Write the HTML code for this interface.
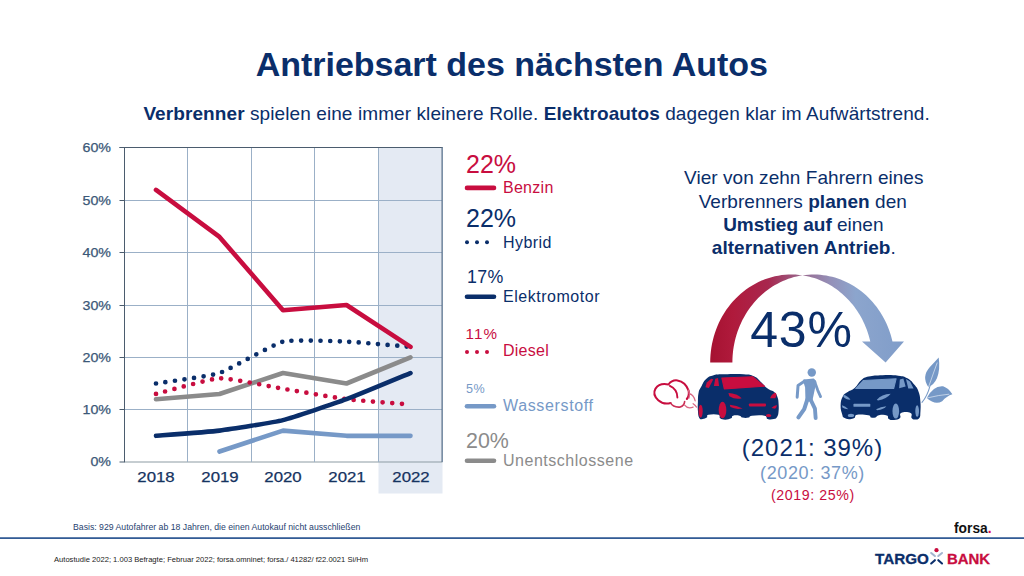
<!DOCTYPE html>
<html lang="de"><head><meta charset="utf-8"><title>Antriebsart des nächsten Autos</title>
<style>
html,body{margin:0;padding:0;background:#fff;}
body{width:1024px;height:576px;position:relative;overflow:hidden;font-family:"Liberation Sans",sans-serif;}
svg{position:absolute;left:0;top:0;}
.t{position:absolute;white-space:nowrap;line-height:1;}
.c{transform:translateX(-50%);}
.r{transform:translateX(-100%);}
b{font-weight:bold;}
</style></head><body>
<svg width="1024" height="576" viewBox="0 0 1024 576">
<rect x="378.5" y="147" width="64" height="346.5" fill="#e4eaf3"/>
<line x1="124.5" x2="442.5" y1="462" y2="462" stroke="#8c9ba3" stroke-width="1"/>
<line x1="119.5" x2="125" y1="462" y2="462" stroke="#4b5c6e" stroke-width="1"/>
<line x1="124.5" x2="442.5" y1="409.50" y2="409.50" stroke="#9bb0c7" stroke-width="1"/>
<line x1="119.5" x2="125" y1="409.50" y2="409.50" stroke="#4b5c6e" stroke-width="1"/>
<line x1="124.5" x2="442.5" y1="357.50" y2="357.50" stroke="#9bb0c7" stroke-width="1"/>
<line x1="119.5" x2="125" y1="357.50" y2="357.50" stroke="#4b5c6e" stroke-width="1"/>
<line x1="124.5" x2="442.5" y1="305.50" y2="305.50" stroke="#9bb0c7" stroke-width="1"/>
<line x1="119.5" x2="125" y1="305.50" y2="305.50" stroke="#4b5c6e" stroke-width="1"/>
<line x1="124.5" x2="442.5" y1="252.50" y2="252.50" stroke="#9bb0c7" stroke-width="1"/>
<line x1="119.5" x2="125" y1="252.50" y2="252.50" stroke="#4b5c6e" stroke-width="1"/>
<line x1="124.5" x2="442.5" y1="200.50" y2="200.50" stroke="#9bb0c7" stroke-width="1"/>
<line x1="119.5" x2="125" y1="200.50" y2="200.50" stroke="#4b5c6e" stroke-width="1"/>
<line x1="124.5" x2="442.5" y1="147.50" y2="147.50" stroke="#9bb0c7" stroke-width="1"/>
<line x1="119.5" x2="125" y1="147.50" y2="147.50" stroke="#4b5c6e" stroke-width="1"/>
<line x1="124.50" x2="124.50" y1="147.5" y2="462" stroke="#9bb0c7" stroke-width="1"/>
<line x1="187.50" x2="187.50" y1="147.5" y2="462" stroke="#9bb0c7" stroke-width="1"/>
<line x1="251.50" x2="251.50" y1="147.5" y2="462" stroke="#9bb0c7" stroke-width="1"/>
<line x1="314.50" x2="314.50" y1="147.5" y2="462" stroke="#9bb0c7" stroke-width="1"/>
<line x1="378.50" x2="378.50" y1="147.5" y2="462" stroke="#9bb0c7" stroke-width="1"/>
<line x1="442.50" x2="442.50" y1="147.5" y2="462" stroke="#9bb0c7" stroke-width="1"/>
<line x1="124.5" x2="124.5" y1="147" y2="462" stroke="#4b5c6e" stroke-width="1"/>
<line x1="119.5" x2="442.5" y1="147.5" y2="147.5" stroke="#4b5c6e" stroke-width="1"/>
<line x1="442" x2="442" y1="147" y2="462" stroke="#5b6f85" stroke-width="1"/>
<path d="M219.50 451.53 L283.00 430.60 L346.50 435.83 L410.50 435.83" fill="none" stroke="#7699c7" stroke-width="4.6" stroke-linecap="round" stroke-linejoin="round"/>
<path d="M156.00 399.20 L219.50 393.97 L283.00 373.03 L346.50 383.50 L410.50 357.33" fill="none" stroke="#8b8b8b" stroke-width="4.6" stroke-linecap="round" stroke-linejoin="round"/>
<path d="M156.00 393.97 C160.66 392.82 210.19 378.65 219.50 378.27 C228.81 377.88 273.69 387.20 283.00 388.73 C292.31 390.27 337.15 398.05 346.50 399.20 C355.85 400.35 405.81 404.05 410.50 404.43" fill="none" stroke="#c80d3f" stroke-width="4.7" stroke-linecap="round" stroke-dasharray="0 9.6"/>
<path d="M156.00 435.83 C160.66 435.45 210.19 431.75 219.50 430.60 C228.81 429.45 273.69 422.44 283.00 420.13 C292.31 417.83 337.15 402.65 346.50 399.20 C355.85 395.75 405.81 374.95 410.50 373.03" fill="none" stroke="#0a2e6a" stroke-width="4.6" stroke-linecap="round"/>
<path d="M156.00 383.50 C160.66 382.73 210.19 376.10 219.50 373.03 C228.81 369.96 273.69 343.94 283.00 341.63 C292.31 339.33 337.15 341.25 346.50 341.63 C355.85 342.02 405.81 346.48 410.50 346.87" fill="none" stroke="#0a2e6a" stroke-width="4.7" stroke-linecap="round" stroke-dasharray="0 9.6"/>
<path d="M156.00 189.87 L219.50 236.97 L283.00 310.23 L346.50 305.00 L410.50 346.87" fill="none" stroke="#c80d3f" stroke-width="4.6" stroke-linecap="round" stroke-linejoin="round"/>
<line x1="467" x2="494" y1="187.9" y2="187.9" stroke="#c80d3f" stroke-width="4.6" stroke-linecap="round"/>
<circle cx="467" cy="242.2" r="2" fill="#0a2e6a"/><circle cx="477" cy="242.2" r="2" fill="#0a2e6a"/><circle cx="487" cy="242.2" r="2" fill="#0a2e6a"/>
<line x1="467" x2="494" y1="296.7" y2="296.7" stroke="#0a2e6a" stroke-width="4.6" stroke-linecap="round"/>
<circle cx="467" cy="352" r="2" fill="#c80d3f"/><circle cx="477" cy="352" r="2" fill="#c80d3f"/><circle cx="487" cy="352" r="2" fill="#c80d3f"/>
<line x1="467" x2="494" y1="406.2" y2="406.2" stroke="#7699c7" stroke-width="4.6" stroke-linecap="round"/>
<line x1="467" x2="494" y1="460.7" y2="460.7" stroke="#8b8b8b" stroke-width="4.6" stroke-linecap="round"/>
<defs><linearGradient id="ag" gradientUnits="userSpaceOnUse" x1="710" y1="0" x2="904" y2="0">
<stop offset="0" stop-color="#a51231"/><stop offset="0.12" stop-color="#b01a3c"/><stop offset="0.30" stop-color="#a8274e"/><stop offset="0.48" stop-color="#986a90"/><stop offset="0.62" stop-color="#9490b8"/><stop offset="0.75" stop-color="#8ca5cd"/><stop offset="1" stop-color="#809dc9"/></linearGradient></defs>
<path d="M710.20 362.40 L710.27 358.65 L710.50 354.90 L710.87 351.17 L711.38 347.46 L712.04 343.78 L712.85 340.13 L713.80 336.52 L714.89 332.96 L716.12 329.45 L717.49 326.00 L718.99 322.62 L720.63 319.31 L722.39 316.08 L724.28 312.93 L726.29 309.87 L728.42 306.91 L730.67 304.05 L733.02 301.30 L735.49 298.66 L738.05 296.13 L740.71 293.73 L743.47 291.45 L746.31 289.30 L749.23 287.28 L752.23 285.40 L755.30 283.66 L758.44 282.07 L761.64 280.62 L764.89 279.32 L768.19 278.17 L771.53 277.17 L774.91 276.33 L778.32 275.65 L781.76 275.12 L785.21 274.76 L788.67 274.55 L792.13 274.50 L795.60 274.62 L799.06 274.89 L802.50 275.33 L802.50 275.33 L805.46 274.94 L808.43 274.68 L811.40 274.53 L814.38 274.50 L817.36 274.59 L820.34 274.80 L823.30 275.13 L826.25 275.57 L829.19 276.13 L832.10 276.81 L834.99 277.60 L837.85 278.51 L840.67 279.53 L843.46 280.66 L846.21 281.90 L848.92 283.25 L851.58 284.71 L854.19 286.27 L856.74 287.93 L859.23 289.69 L861.67 291.56 L864.04 293.51 L866.34 295.56 L868.57 297.70 L870.72 299.93 L872.80 302.24 L874.80 304.63 L876.72 307.10 L878.55 309.64 L880.29 312.26 L881.95 314.94 L883.51 317.69 L884.98 320.49 L886.35 323.36 L887.62 326.27 L888.80 329.24 L889.87 332.25 L890.84 335.30 L891.71 338.38 L892.47 341.50 L904.00 341.50 L885.60 362.60 L862.00 341.50 L870.27 341.50 L869.66 338.96 L868.98 336.44 L868.23 333.95 L867.41 331.48 L866.53 329.04 L865.57 326.63 L864.55 324.25 L863.47 321.90 L862.32 319.59 L861.11 317.32 L859.84 315.09 L858.50 312.90 L857.11 310.76 L855.66 308.66 L854.15 306.61 L852.58 304.60 L850.96 302.65 L849.29 300.76 L847.56 298.92 L845.79 297.13 L843.96 295.40 L842.09 293.73 L840.18 292.13 L838.22 290.58 L836.22 289.10 L834.18 287.69 L832.10 286.34 L829.99 285.06 L827.84 283.85 L825.66 282.71 L823.45 281.63 L821.21 280.64 L818.94 279.71 L816.65 278.86 L814.33 278.08 L812.00 277.38 L809.65 276.75 L807.28 276.20 L804.89 275.72 L802.50 275.33 L802.50 275.33 L799.62 275.81 L796.77 276.41 L793.93 277.12 L791.12 277.94 L788.34 278.86 L785.59 279.90 L782.88 281.03 L780.20 282.28 L777.57 283.63 L774.99 285.07 L772.45 286.62 L769.97 288.27 L767.55 290.01 L765.18 291.84 L762.87 293.76 L760.63 295.77 L758.46 297.87 L756.36 300.05 L754.34 302.31 L752.38 304.65 L750.51 307.06 L748.72 309.54 L747.01 312.09 L745.39 314.71 L743.86 317.39 L742.41 320.12 L741.06 322.91 L739.80 325.75 L738.63 328.64 L737.56 331.57 L736.59 334.53 L735.72 337.54 L734.94 340.58 L734.27 343.64 L733.70 346.73 L733.23 349.84 L732.87 352.97 L732.61 356.10 L732.45 359.25 L732.40 362.40 Z" fill="url(#ag)"/>
<rect x="0" y="537.3" width="1024" height="1.6" fill="#1d4a8a"/>
<g transform="translate(648,364) scale(0.13672)">
<path d="M375.0 395.0 C366.8 380.5 367.3 366.8 365.0 340.0 C362.7 313.2 363.8 310.3 365.0 280.0 C366.2 249.7 364.2 236.8 370.0 210.0 C375.8 183.2 377.2 188.3 390.0 165.0 C402.8 141.7 404.0 129.4 425.0 110.0 C446.0 90.6 448.5 90.2 480.0 82.0 C511.5 73.8 508.7 76.6 560.0 75.0 C611.3 73.4 649.8 71.5 700.0 75.0 C750.2 78.5 744.7 76.0 775.0 90.0 C805.3 104.0 806.7 114.0 830.0 135.0 C853.3 156.0 852.8 163.2 875.0 180.0 C897.2 196.8 908.0 191.8 925.0 207.0 C942.0 222.2 941.0 225.6 948.0 245.0 C955.0 264.4 953.4 266.7 955.0 290.0 C956.6 313.3 957.3 322.8 955.0 345.0 C952.7 367.2 953.2 371.7 945.0 385.0 C936.8 398.3 936.3 398.0 920.0 402.0 C903.7 406.0 890.9 407.6 875.0 402.0 C859.1 396.4 878.8 383.6 852.0 378.0 C825.2 372.4 787.3 374.7 760.0 378.0 C732.7 381.3 750.9 388.7 735.0 392.0 C719.1 395.3 707.2 395.3 692.0 392.0 C676.8 388.7 686.3 381.3 670.0 378.0 C653.7 374.7 636.5 373.6 622.0 378.0 C607.5 382.4 621.3 390.2 608.0 397.0 C594.7 403.8 583.7 407.0 565.0 407.0 C546.3 407.0 539.7 405.2 528.0 397.0 C516.3 388.8 535.1 377.8 515.0 372.0 C494.9 366.2 461.8 367.3 442.0 372.0 C422.2 376.7 439.8 385.0 430.0 392.0 C420.2 399.0 412.8 401.3 400.0 402.0 C387.2 402.7 383.2 409.5 375.0 395.0 Z" fill="#0a2e6a"/>
<path d="M540 102 L765 93 L852 163 L558 182 Z" fill="#c80d3f" stroke="#c80d3f" stroke-width="8" stroke-linejoin="round"/>
<path d="M462 108 L478 112 L445 175 L420 170 L430 135 Z" fill="#c80d3f"/>
<path d="M492 108 L512 102 L520 160 L482 160 Z" fill="#c80d3f"/>
<path d="M588 212 Q650 215 685 250 Q640 262 595 235 Z" fill="#c80d3f"/>
<path d="M598 298 Q650 302 692 325 Q640 335 603 315 Z" fill="#c80d3f"/>
<rect x="738" y="289" width="125" height="21" rx="6" fill="#c80d3f"/>
<path d="M893 250 Q905 215 935 210 Q945 235 930 250 Z" fill="#c80d3f"/>
<path d="M903 322 Q920 305 942 300 Q945 318 930 328 Z" fill="#c80d3f"/>
<ellipse cx="545" cy="337" rx="28" ry="60" fill="#c80d3f"/>
<ellipse cx="385" cy="345" rx="15" ry="47" fill="#c80d3f"/>
<ellipse cx="882" cy="376" rx="20" ry="11" fill="#c80d3f"/>
<g fill="none" stroke-linecap="round" stroke-linejoin="round">
<path d="M165 285 Q115 300 75 265 Q30 225 55 180 Q85 135 150 150 Q175 115 215 120 Q275 130 297 195 Q304 232 284 256" stroke="#c80d3f" stroke-width="15"/>
<path d="M160 160 Q215 185 215 245" stroke="#c80d3f" stroke-width="14"/>
<path d="M165 285 Q185 320 235 315 Q265 305 268 275" stroke="#cb2f56" stroke-width="12"/>
<path d="M295 190 Q310 220 300 250 M268 300 Q290 330 330 315 M300 215 Q335 225 345 270 M330 290 Q345 300 355 315" stroke="#d96985" stroke-width="9"/>
</g>
</g>
<g transform="translate(784,352) scale(0.17578)">
<path d="M332.0 358.0 C327.3 341.9 321.3 329.7 322.0 305.0 C322.7 280.3 325.0 270.4 335.0 252.0 C345.0 233.6 349.4 237.0 365.0 226.0 C380.6 215.0 384.5 220.4 402.0 205.0 C419.5 189.6 421.3 175.2 440.0 160.0 C458.7 144.8 454.0 146.5 482.0 140.0 C510.0 133.5 520.8 133.2 560.0 132.0 C599.2 130.8 616.9 130.8 650.0 135.0 C683.1 139.2 680.5 137.9 702.0 150.0 C723.5 162.1 727.1 169.0 742.0 187.0 C756.9 205.0 758.1 204.8 766.0 227.0 C773.9 249.2 773.7 255.2 776.0 282.0 C778.3 308.8 777.4 320.1 776.0 342.0 C774.6 363.9 777.0 366.2 770.0 376.0 C763.0 385.8 756.3 384.0 746.0 384.0 C735.7 384.0 732.1 384.6 726.0 376.0 C719.9 367.4 734.0 353.8 720.0 347.0 C706.0 340.2 680.0 340.2 666.0 347.0 C652.0 353.8 669.3 366.7 660.0 376.0 C650.7 385.3 640.9 385.8 626.0 387.0 C611.1 388.2 605.6 387.1 596.0 381.0 C586.4 374.9 598.1 365.9 585.0 361.0 C571.9 356.1 555.2 357.4 540.0 360.0 C524.8 362.6 530.5 369.2 520.0 372.0 C509.5 374.8 504.3 374.8 495.0 372.0 C485.7 369.2 498.4 363.5 480.0 360.0 C461.6 356.5 434.7 353.3 416.0 357.0 C397.3 360.7 410.7 370.2 400.0 376.0 C389.3 381.8 383.5 382.5 370.0 382.0 C356.5 381.5 350.9 379.6 342.0 374.0 C333.1 368.4 336.7 374.1 332.0 358.0 Z" fill="#0a2e6a"/>
<path d="M452 162 L638 152 L624 208 L408 208 Z" fill="#7699c7" stroke="#7699c7" stroke-width="6" stroke-linejoin="round"/>
<path d="M659 157 L679 151 L692 196 L655 206 Z" fill="#7699c7"/>
<path d="M694 154 L717 168 L737 207 L707 207 Z" fill="#7699c7"/>
<path d="M528 272 Q555 240 607 238 Q585 268 535 276 Z" fill="#7699c7"/>
<path d="M338 243 Q365 250 378 272 Q350 272 338 255 Z" fill="#7699c7"/>
<rect x="395" y="295" width="96" height="17" rx="4" fill="#7699c7"/>
<path d="M524 326 Q550 310 582 308 Q570 325 530 332 Z" fill="#7699c7"/>
<path d="M330 303 Q350 308 366 326 Q345 326 332 316 Z" fill="#7699c7"/>
<ellipse cx="636" cy="336" rx="19" ry="43" fill="#7699c7"/>
<ellipse cx="757.5" cy="336" rx="10.5" ry="33" fill="#7699c7"/>
<ellipse cx="381" cy="361" rx="18" ry="9" fill="#7699c7"/>
<circle cx="158" cy="117" r="24" fill="#7699c7"/>
<path d="M114 162 L168 157 L178 170 L156 275 L128 275 L126 200 Z" fill="#7699c7" stroke="#7699c7" stroke-width="12" stroke-linejoin="round"/>
<g fill="none" stroke="#7699c7" stroke-linecap="round" stroke-linejoin="round">
<path d="M118 165 L80 190 L75 257" stroke-width="17"/>
<path d="M174 168 L192 218 L208 254" stroke-width="16"/>
<path d="M132 272 L115 325 L82 372" stroke-width="23"/>
<path d="M152 272 L176 322 L180 376" stroke-width="22"/>
</g>
<path d="M785 287 Q815 250 830 195" fill="none" stroke="#7699c7" stroke-width="6" stroke-linecap="round"/>
<path d="M822 200 Q780 140 830 85 Q860 55 880 32 Q890 100 870 150 Q855 185 822 200 Z" fill="#7699c7"/>
<path d="M812 262 Q850 190 905 195 Q935 205 958 240 Q925 250 900 280 Q860 305 812 262 Z" fill="#7699c7"/>
<path d="M822 200 Q850 120 872 60" fill="none" stroke="#dfe8f3" stroke-width="4"/>
<path d="M812 262 Q880 245 940 240" fill="none" stroke="#dfe8f3" stroke-width="4"/>
</g>
<circle cx="936.5" cy="550.2" r="2.1" fill="#c80d3f"/>
<g fill="none" stroke-linecap="round" stroke-width="2.1">
<path d="M931.2 553 L934.9 556" stroke="#a3b5cf"/>
<path d="M942 553 L938.3 556" stroke="#a3b5cf"/>
<path d="M934.9 560.2 L931.2 563.5" stroke="#0a2e6a"/>
<path d="M938.3 560.2 L942 563.5" stroke="#0a2e6a"/>
</g>
</svg>
<div class="t" id="t0" style="left:511.8px;top:47.10px;font-size:34px;color:#0a2e6a;font-weight:bold;transform:translateX(-50%);transform-origin:center center;letter-spacing:-0.011px;margin-left:-0.006px;">Antriebsart des nächsten Autos</div>
<div class="t" id="t1" style="left:536.6px;top:104.25px;font-size:19px;color:#0a2e6a;transform:translateX(-50%);transform-origin:center center;letter-spacing:0.091px;margin-left:0.045px;"><b>Verbrenner</b> spielen eine immer kleinere Rolle. <b>Elektroautos</b> dagegen klar im Aufwärtstrend.</div>
<div class="t" id="t2" style="left:803.8px;top:168.35px;font-size:19px;color:#0a2e6a;transform:translateX(-50%);transform-origin:center center;letter-spacing:0.040px;margin-left:0.020px;">Vier von zehn Fahrern eines</div>
<div class="t" id="t3" style="left:802.8px;top:191.55px;font-size:19px;color:#0a2e6a;transform:translateX(-50%);transform-origin:center center;letter-spacing:0.061px;margin-left:0.031px;">Verbrenners <b>planen</b> den</div>
<div class="t" id="t4" style="left:803.3px;top:215.25px;font-size:19px;color:#0a2e6a;transform:translateX(-50%);transform-origin:center center;letter-spacing:-0.014px;margin-left:-0.007px;"><b>Umstieg auf</b> einen</div>
<div class="t" id="t5" style="left:803.8px;top:238.25px;font-size:19px;color:#0a2e6a;transform:translateX(-50%);transform-origin:center center;letter-spacing:0.049px;margin-left:0.025px;"><b>alternativen Antrieb</b>.</div>
<div class="t" id="t6" style="left:110.5px;top:456.39px;font-size:12.6px;color:#3b5878;-webkit-text-stroke:0.25px #3b5878;transform:translateX(-100%) scaleX(1.13);transform-origin:right center;">0%</div>
<div class="t" id="t7" style="left:110.5px;top:404.39px;font-size:12.6px;color:#3b5878;-webkit-text-stroke:0.25px #3b5878;transform:translateX(-100%) scaleX(1.13);transform-origin:right center;">10%</div>
<div class="t" id="t8" style="left:110.5px;top:352.39px;font-size:12.6px;color:#3b5878;-webkit-text-stroke:0.25px #3b5878;transform:translateX(-100%) scaleX(1.13);transform-origin:right center;">20%</div>
<div class="t" id="t9" style="left:110.5px;top:300.39px;font-size:12.6px;color:#3b5878;-webkit-text-stroke:0.25px #3b5878;transform:translateX(-100%) scaleX(1.13);transform-origin:right center;">30%</div>
<div class="t" id="t10" style="left:110.5px;top:247.39px;font-size:12.6px;color:#3b5878;-webkit-text-stroke:0.25px #3b5878;transform:translateX(-100%) scaleX(1.13);transform-origin:right center;">40%</div>
<div class="t" id="t11" style="left:110.5px;top:195.39px;font-size:12.6px;color:#3b5878;-webkit-text-stroke:0.25px #3b5878;transform:translateX(-100%) scaleX(1.13);transform-origin:right center;">50%</div>
<div class="t" id="t12" style="left:110.5px;top:142.39px;font-size:12.6px;color:#3b5878;-webkit-text-stroke:0.25px #3b5878;transform:translateX(-100%) scaleX(1.13);transform-origin:right center;">60%</div>
<div class="t" id="t13" style="left:156px;top:470.39px;font-size:14.6px;color:#15335f;-webkit-text-stroke:0.25px #15335f;transform:translateX(-50%) scaleX(1.15);transform-origin:center center;">2018</div>
<div class="t" id="t14" style="left:219.5px;top:470.39px;font-size:14.6px;color:#15335f;-webkit-text-stroke:0.25px #15335f;transform:translateX(-50%) scaleX(1.15);transform-origin:center center;">2019</div>
<div class="t" id="t15" style="left:283px;top:470.39px;font-size:14.6px;color:#15335f;-webkit-text-stroke:0.25px #15335f;transform:translateX(-50%) scaleX(1.15);transform-origin:center center;">2020</div>
<div class="t" id="t16" style="left:346.5px;top:470.39px;font-size:14.6px;color:#15335f;-webkit-text-stroke:0.25px #15335f;transform:translateX(-50%) scaleX(1.15);transform-origin:center center;">2021</div>
<div class="t" id="t17" style="left:410.5px;top:470.39px;font-size:14.6px;color:#15335f;-webkit-text-stroke:0.25px #15335f;transform:translateX(-50%) scaleX(1.15);transform-origin:center center;">2022</div>
<div class="t" id="t18" style="left:466px;top:151.95px;font-size:25px;color:#c80d3f;">22%</div>
<div class="t" id="t19" style="left:503px;top:179.60px;font-size:16px;color:#c80d3f;letter-spacing:0.276px;">Benzin</div>
<div class="t" id="t20" style="left:466px;top:205.65px;font-size:25px;color:#0a2e6a;">22%</div>
<div class="t" id="t21" style="left:503px;top:234.70px;font-size:16px;color:#0a2e6a;letter-spacing:0.433px;">Hybrid</div>
<div class="t" id="t22" style="left:467px;top:269.17px;font-size:17.8px;color:#0a2e6a;letter-spacing:0.403px;">17%</div>
<div class="t" id="t23" style="left:503px;top:289.30px;font-size:16px;color:#0a2e6a;letter-spacing:0.527px;">Elektromotor</div>
<div class="t" id="t24" style="left:465.6px;top:325.68px;font-size:15.2px;color:#c80d3f;letter-spacing:1.059px;">11%</div>
<div class="t" id="t25" style="left:503px;top:342.90px;font-size:16px;color:#c80d3f;letter-spacing:0.246px;">Diesel</div>
<div class="t" id="t26" style="left:466px;top:382.59px;font-size:12.6px;color:#7699c7;letter-spacing:0.497px;">5%</div>
<div class="t" id="t27" style="left:503px;top:398.20px;font-size:16px;color:#7699c7;letter-spacing:0.642px;">Wasserstoff</div>
<div class="t" id="t28" style="left:466px;top:430.81px;font-size:21.4px;color:#8b8b8b;letter-spacing:-0.014px;">20%</div>
<div class="t" id="t29" style="left:503px;top:452.90px;font-size:16px;color:#8b8b8b;letter-spacing:0.525px;">Unentschlossene</div>
<div class="t" id="t30" style="left:801.5px;top:305.00px;font-size:50px;color:#0a2e6a;letter-spacing:0.8px;transform:translateX(-50%);transform-origin:center center;">43%</div>
<div class="t" id="t31" style="left:812px;top:435.80px;font-size:24px;color:#0a2e6a;transform:translateX(-50%);transform-origin:center center;letter-spacing:0.955px;margin-left:0.478px;">(2021: 39%)</div>
<div class="t" id="t32" style="left:812.2px;top:463.70px;font-size:18px;color:#7699c7;transform:translateX(-50%);transform-origin:center center;letter-spacing:0.624px;margin-left:0.312px;">(2020: 37%)</div>
<div class="t" id="t33" style="left:812.6px;top:488.43px;font-size:14.2px;color:#c80d3f;transform:translateX(-50%);transform-origin:center center;letter-spacing:0.600px;margin-left:0.300px;">(2019: 25%)</div>
<div class="t" id="t34" style="left:73px;top:522.90px;font-size:8.7px;color:#1f3f70;letter-spacing:0.006px;">Basis: 929 Autofahrer ab 18 Jahren, die einen  Autokauf nicht ausschließen</div>
<div class="t" id="t35" style="left:54px;top:556.04px;font-size:7.6px;color:#222;">Autostudie 2022; 1.003 Befragte; Februar 2022;  forsa.omninet; forsa./ 41282/ f22.0021 Si/Hm</div>
<div class="t" id="t36" style="left:954.3px;top:519.83px;font-size:15.5px;color:#111;font-weight:bold;transform:scaleX(0.89);transform-origin:left center;">forsa<span style="color:#e0004d">.</span></div>
<div class="t" id="t37" style="left:874.7px;top:550.55px;font-size:15px;color:#0a2e6a;font-weight:bold;-webkit-text-stroke:0.3px #0a2e6a;transform:scaleX(1.015);transform-origin:left center;">TARGO</div>
<div class="t" id="t38" style="left:946.7px;top:550.55px;font-size:15px;color:#c80d3f;font-weight:bold;-webkit-text-stroke:0.3px #c80d3f;transform:scaleX(0.995);transform-origin:left center;">BANK</div>
</body></html>
